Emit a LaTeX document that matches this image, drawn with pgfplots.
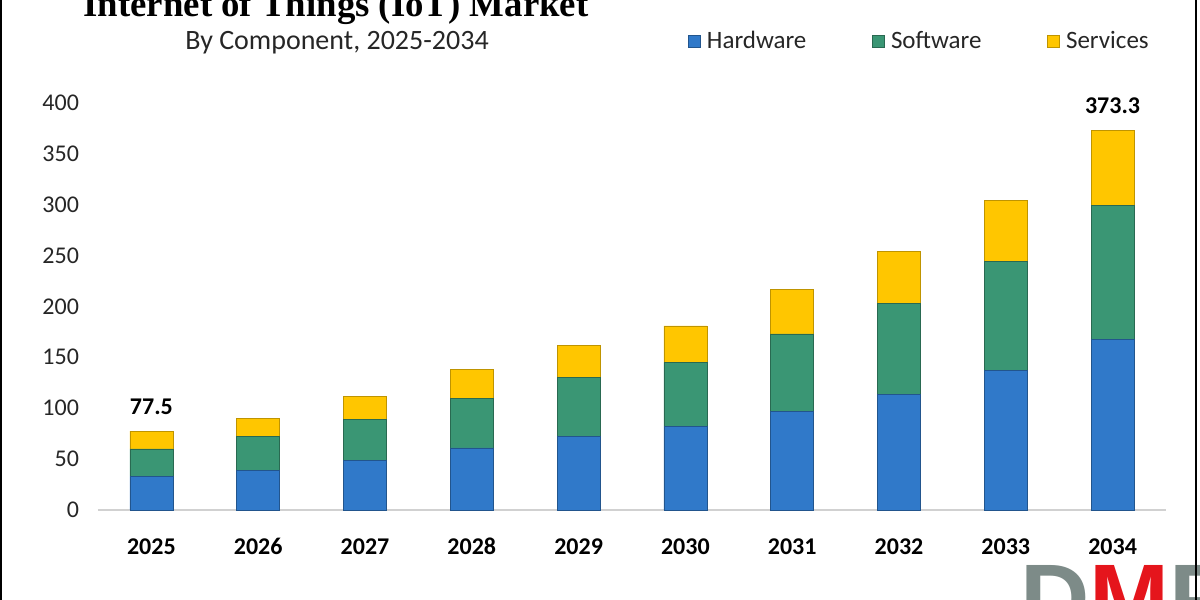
\documentclass[border=0pt]{standalone}
\usepackage{pgfplots}
\pgfplotsset{compat=1.18}
\usepackage{fontspec}
\setmainfont{Carlito}
\newfontfamily\titlefont{Liberation Serif}
\newfontfamily\logofont{Liberation Sans}
\definecolor{hw}{HTML}{3079C9}
\definecolor{sw}{HTML}{3A9674}
\definecolor{sv}{HTML}{FFC600}
\definecolor{logogray}{HTML}{7D8B88}
\definecolor{logored}{HTML}{E5151C}
\begin{document}
\begin{tikzpicture}
\useasboundingbox (0,0) rectangle (600pt,300pt);
\begin{axis}[
  at={(49pt,45pt)}, anchor=south west,
  scale only axis, width=534pt, height=203.5pt,
  ybar stacked, bar width=21.5pt,
  xmin=-0.5, xmax=9.5, ymin=0, ymax=400,
  xtick={0,...,9},
  xticklabels={2025,2026,2027,2028,2029,2030,2031,2032,2033,2034},
  ytick={0,50,...,400},
  axis x line=bottom, axis y line=left,
  x axis line style={-, draw=black!18, line width=0.8pt},
  y axis line style={draw=none},
  major tick length=0pt,
  typeset ticklabels with strut,
  /pgf/number format/assume math mode=true,
  yticklabel style={font=\fontsize{12}{14}\selectfont, text=black!85, xshift=-6pt, yshift=-1pt},
  xticklabel style={font=\fontsize{12}{14}\selectfont\bfseries, yshift=-9pt},
  legend columns=3,
  legend style={draw=none, fill=none, inner sep=0pt, at={(0.5524,1.152)}, anchor=west,
    font=\fontsize{12.5}{14}\selectfont, text=black!85,
    /tikz/every even column/.append style={column sep=31pt}},
  legend image code/.code={\fill[#1] (0pt,-3pt) rectangle (6pt,3pt);},
  clip=false,
]
\addplot[fill=hw, draw=hw!70!black, line width=0.3pt] coordinates {(0,33) (1,39) (2,49) (3,61) (4,72) (5,82) (6,97) (7,114) (8,137) (9,168)};
\addplot[fill=sw, draw=sw!70!black, line width=0.3pt] coordinates {(0,27) (1,33) (2,40) (3,49) (4,58) (5,63) (6,76) (7,89) (8,107) (9,131)};
\addplot[fill=sv, draw=sv!75!black, line width=0.3pt] coordinates {(0,17.5) (1,18) (2,23) (3,28) (4,32) (5,36) (6,44) (7,51) (8,60) (9,74.3)};
\legend{\hspace{1pt}Hardware,\hspace{1pt}Software,\hspace{1pt}Services}
\node[anchor=south, font=\fontsize{12}{14}\selectfont\bfseries, inner sep=0pt] at (axis cs:0,77.5) [yshift=8pt] {77.5};
\node[anchor=south, font=\fontsize{12}{14}\selectfont\bfseries, inner sep=0pt] at (axis cs:9,373.3) [yshift=8pt] {373.3};
\end{axis}
\node[anchor=base, font=\titlefont\bfseries\fontsize{18.4}{20}\selectfont, inner sep=0pt] at (168pt,291.5pt) {Internet of Things (IoT) Market};
\node[anchor=base, font=\fontsize{14}{16}\selectfont, text=black!85, inner sep=0pt] at (168.5pt,275pt) {By Component, 2025-2034};
\node[anchor=base west, font=\logofont\bfseries\fontsize{48}{52}\selectfont, inner sep=0pt] at (510pt,-16pt) {\textcolor{logogray}{D}\textcolor{logored}{M}\textcolor{logogray}{P}};
\fill[black] (0,0) rectangle (1pt,300pt);
\fill[black] (597.5pt,0) rectangle (598.5pt,300pt);
\end{tikzpicture}
\end{document}
